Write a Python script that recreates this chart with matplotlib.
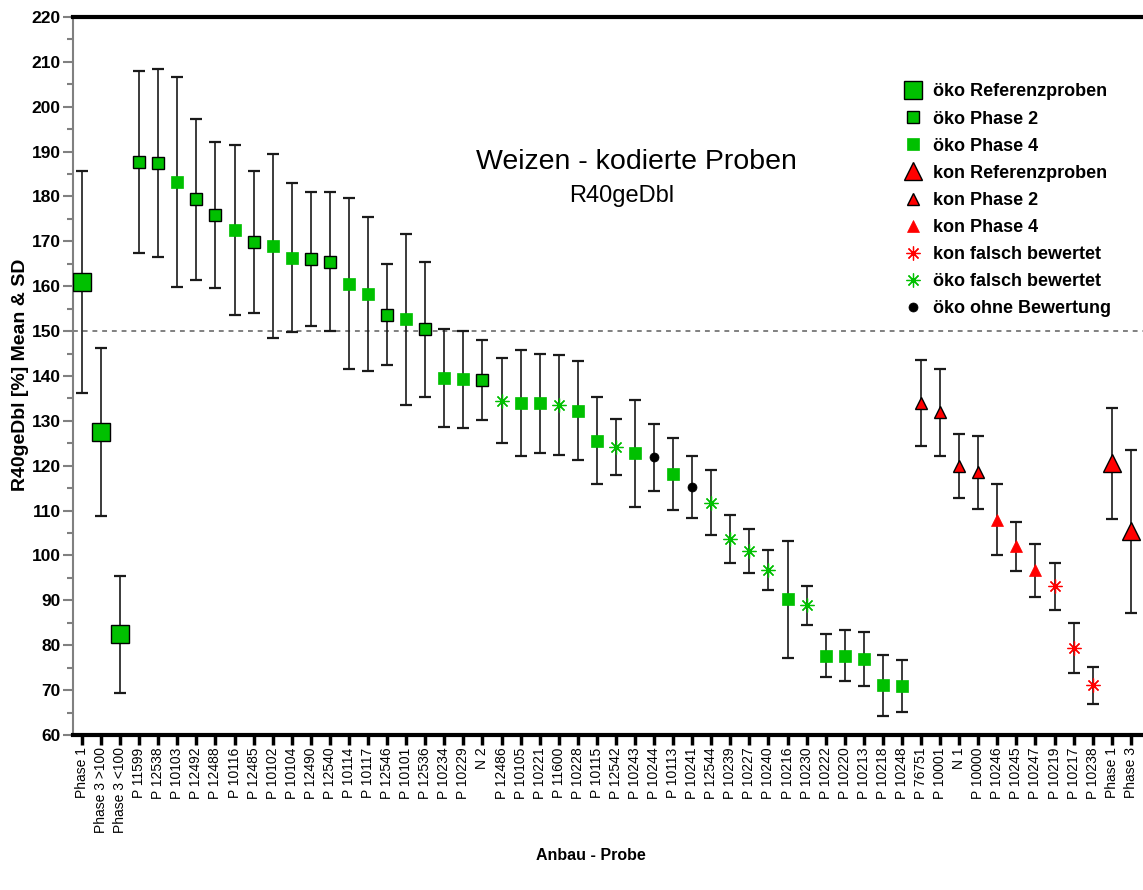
import matplotlib
matplotlib.use("Agg")
import matplotlib.pyplot as plt
from matplotlib.lines import Line2D
from matplotlib.ticker import MultipleLocator
import numpy as np

plt.rcParams['font.family'] = ['Liberation Sans', 'DejaVu Sans']

# Sample labels along the x axis
labels = [
    "Phase 1", "Phase 3 >100", "Phase 3 <100",
    "P 11599", "P 12538", "P 10103", "P 12492", "P 12488", "P 10116", "P 12485",
    "P 10102", "P 10104", "P 12490", "P 12540", "P 10114", "P 10117", "P 12546",
    "P 10101", "P 12536", "P 10234", "P 10229", "N 2", "P 12486", "P 10105",
    "P 10221", "P 11600", "P 10228", "P 10115", "P 12542", "P 10243", "P 10244",
    "P 10113", "P 10241", "P 12544", "P 10239", "P 10227", "P 10240", "P 10216",
    "P 10230", "P 10222", "P 10220", "P 10213", "P 10218", "P 10248",
    "P 76751", "P 10001", "N 1", "P 10000", "P 10246", "P 10245", "P 10247",
    "P 10219", "P 10217", "P 10238", "Phase 1", "Phase 3",
]

# Mean values [%]
means = [
    161.0, 127.5, 82.4,
    187.7, 187.5, 183.2, 179.4, 175.8, 172.5, 169.8,
    169.0, 166.4, 166.1, 165.5, 160.6, 158.3, 153.7,
    152.6, 150.4, 139.6, 139.3, 139.1, 134.5, 134.0,
    133.9, 133.6, 132.3, 125.6, 124.2, 122.8, 121.9,
    118.2, 115.3, 111.8, 103.7, 100.9, 96.8, 90.2,
    88.9, 77.7, 77.7, 77.0, 71.1, 70.9,
    134.0, 131.9, 119.9, 118.5, 108.0, 102.0, 96.7,
    93.1, 79.4, 71.1, 120.5, 105.4,
]

# Standard deviations [%]
sds = [
    24.7, 18.7, 13.0,
    20.3, 20.9, 23.4, 17.9, 16.3, 18.9, 15.8,
    20.5, 16.5, 14.9, 15.4, 19.0, 17.2, 11.3,
    19.0, 15.1, 10.9, 10.8, 9.0, 9.4, 11.8,
    11.0, 11.1, 10.95, 9.7, 6.3, 11.9, 7.5,
    8.0, 6.9, 7.2, 5.3, 4.9, 4.4, 12.95,
    4.4, 4.7, 5.6, 6.0, 6.8, 5.8,
    9.5, 9.7, 7.2, 8.2, 7.95, 5.5, 5.9,
    5.3, 5.65, 4.1, 12.45, 18.2,
]

# Sample group of each point
groups = [
    "oeko_ref", "oeko_ref", "oeko_ref",
    "oeko_p2", "oeko_p2", "oeko_p4", "oeko_p2", "oeko_p2", "oeko_p4", "oeko_p2",
    "oeko_p4", "oeko_p4", "oeko_p2", "oeko_p2", "oeko_p4", "oeko_p4", "oeko_p2",
    "oeko_p4", "oeko_p2", "oeko_p4", "oeko_p4", "oeko_p2", "oeko_false", "oeko_p4",
    "oeko_p4", "oeko_false", "oeko_p4", "oeko_p4", "oeko_false", "oeko_p4", "oeko_none",
    "oeko_p4", "oeko_none", "oeko_false", "oeko_false", "oeko_false", "oeko_false", "oeko_p4",
    "oeko_false", "oeko_p4", "oeko_p4", "oeko_p4", "oeko_p4", "oeko_p4",
    "kon_p2", "kon_p2", "kon_p2", "kon_p2", "kon_p4", "kon_p4", "kon_p4",
    "kon_false", "kon_false", "kon_false", "kon_ref", "kon_ref",
]

legend_order = ["oeko_ref", "oeko_p2", "oeko_p4", "kon_ref", "kon_p2", "kon_p4",
                "kon_false", "oeko_false", "oeko_none"]
legend_labels = ["öko Referenzproben", "öko Phase 2", "öko Phase 4",
                 "kon Referenzproben", "kon Phase 2", "kon Phase 4",
                 "kon falsch bewertet", "öko falsch bewertet", "öko ohne Bewertung"]

GREEN = "#00C000"
RED = "#FF0000"
ASTERISK = (8, 2, 0)

styles = {
    "oeko_ref":   dict(marker="s", ms=12.5, mfc=GREEN, mec="black", mew=1.0),
    "oeko_p2":    dict(marker="s", ms=9.0, mfc=GREEN, mec="black", mew=1.0),
    "oeko_p4":    dict(marker="s", ms=9.0, mfc=GREEN, mec=GREEN, mew=0.5),
    "kon_ref":    dict(marker="^", ms=13.0, mfc=RED, mec="black", mew=1.0),
    "kon_p2":     dict(marker="^", ms=9.0, mfc=RED, mec="black", mew=1.0),
    "kon_p4":     dict(marker="^", ms=9.0, mfc=RED, mec=RED, mew=0.5),
    "kon_false":  dict(marker=ASTERISK, ms=10.0, mfc=RED, mec=RED, mew=0.9),
    "oeko_false": dict(marker=ASTERISK, ms=10.0, mfc=GREEN, mec=GREEN, mew=0.9),
    "oeko_none":  dict(marker="o", ms=6.5, mfc="black", mec="black", mew=0.5),
}

fig = plt.figure(figsize=(11.43, 8.90), dpi=100)
ax = fig.add_axes([0.0639, 0.1742, 0.9361, 0.8067])

x = np.arange(len(labels))
means_a = np.array(means)
sds_a = np.array(sds)

# Error bars (mean ± SD)
ax.errorbar(x, means_a, yerr=sds_a, fmt="none", ecolor="#1a1a1a",
            elinewidth=1.2, capsize=4.3, capthick=1.6, zorder=2)

# Markers per group
for g in legend_order:
    idx = [i for i, gg in enumerate(groups) if gg == g]
    st = styles[g]
    ax.plot(x[idx], means_a[idx], linestyle="none", marker=st["marker"],
            markersize=st["ms"], markerfacecolor=st["mfc"],
            markeredgecolor=st["mec"], markeredgewidth=st["mew"], zorder=3)

# Reference line at 150 %
ax.axhline(150, color="#808080", linestyle=(0, (2.5, 2.5)), linewidth=1.4, zorder=1)

ax.set_xlim(-0.47, 55.64)
ax.set_ylim(60, 220)

ax.set_xticks(x)
ax.set_xticklabels(labels, rotation=90, fontsize=10)
ax.tick_params(axis="x", direction="out", length=7, width=2.5, color="black", pad=2)

ax.yaxis.set_major_locator(MultipleLocator(10))
ax.yaxis.set_minor_locator(MultipleLocator(5))
ax.tick_params(axis="y", which="major", direction="out", length=7, width=1.5,
               color="#808080", labelsize=12.5, pad=2)
ax.tick_params(axis="y", which="minor", direction="out", length=4, width=1.5,
               color="#808080")
for t in ax.get_yticklabels():
    t.set_fontweight("bold")

ax.spines["right"].set_visible(False)
ax.spines["left"].set_color("#808080")
ax.spines["left"].set_linewidth(1.5)
ax.spines["bottom"].set_linewidth(3)
ax.spines["top"].set_linewidth(3)

# Axis titles
fig.text(0.0175, 0.579, "R40geDbl [%] Mean & SD", rotation=90, ha="center",
         va="center", fontsize=14, fontweight="bold")
fig.text(0.517, 0.0393, "Anbau - Probe", ha="center", va="center",
         fontsize=11.5, fontweight="bold")

# Chart title
fig.text(0.557, 0.818, "Weizen - kodierte Proben", ha="center", va="center",
         fontsize=20.5)
fig.text(0.544, 0.780, "R40geDbl", ha="center", va="center", fontsize=17)

# Legend
handles = []
for g in legend_order:
    st = styles[g]
    handles.append(Line2D([], [], linestyle="none", marker=st["marker"],
                          markersize=st["ms"], markerfacecolor=st["mfc"],
                          markeredgecolor=st["mec"], markeredgewidth=st["mew"]))
leg = fig.legend(handles, legend_labels, loc="upper left",
                 bbox_to_anchor=(0.791, 0.9062), frameon=False,
                 prop=dict(family=["Liberation Sans", "DejaVu Sans"], weight="bold", size=13),
                 handlelength=1.0, handletextpad=0.6, labelspacing=0.56,
                 borderpad=0, borderaxespad=0)

fig.savefig("out.png", dpi=100)
